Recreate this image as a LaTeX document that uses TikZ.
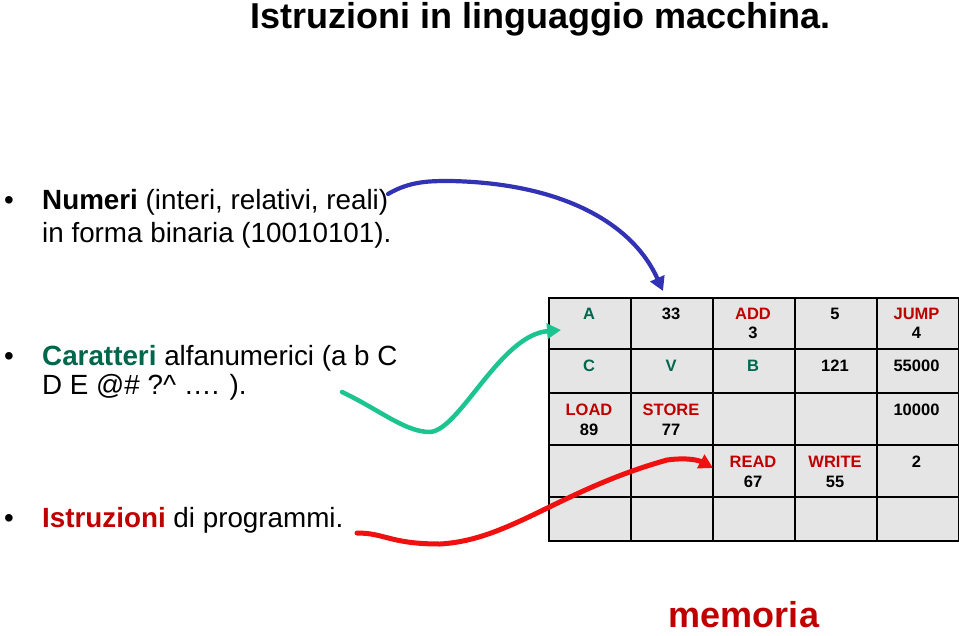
\documentclass[tikz,border=0pt]{standalone}
\usepackage{fontspec}
\setmainfont{Liberation Sans}
\usetikzlibrary{arrows.meta}
\definecolor{tgreen}{HTML}{00664C}
\definecolor{tred}{HTML}{C00000}
\definecolor{ablue}{HTML}{3232B4}
\definecolor{agreen}{HTML}{1CC490}
\definecolor{ared}{HTML}{F01010}
\definecolor{cellgray}{HTML}{E5E5E5}
\begin{document}
\begin{tikzpicture}[x=1pt,y=-1pt,
  cellbox/.style={draw=black, line width=1.5pt, fill=cellgray, inner sep=0pt, minimum width=82pt, anchor=north west},
  celltxt/.style={anchor=base, inner sep=0pt, font=\fontsize{16.5}{19}\selectfont\bfseries},
  body/.style={anchor=base west, inner sep=0pt, font=\fontsize{27.8}{33}\selectfont},
  bul/.style={anchor=base west, inner sep=0pt, font=\fontsize{27.8}{33}\selectfont},
  handarrow/.style={line width=4.2pt, line cap=round, line join=round, -{Triangle[length=14pt,width=15pt]}}
]
\useasboundingbox (0,0) rectangle (959,635);

% title
\node[anchor=base west, inner sep=0pt, font=\fontsize{36}{40}\selectfont\bfseries] (title) at (250,28) {Istruzioni in linguaggio macchina.};

% bullets and text
\node[bul] (b1) at (4,209) {•};
\node[body] (n1) at (42,209) {\textbf{Numeri} (interi, relativi, reali)};
\node[body] (n2) at (42,242) {in forma binaria (10010101).};
\node[bul] (b2) at (4,365) {•};
\node[body] (c1) at (42,365) {\textcolor{tgreen}{\textbf{Caratteri}} alfanumerici (a b C};
\node[body] (c2) at (42,394) {D E @\# ?\textasciicircum{} …. ).};
\node[bul] (b3) at (4,527) {•};
\node[body] (i1) at (42,527) {\textcolor{tred}{\textbf{Istruzioni}} di programmi.};

% memory grid
\foreach \r/\top/\h in {1/297/51, 2/348/44, 3/392/52, 4/444/52, 5/496/44}{
  \foreach \c/\l in {1/548, 2/630, 3/712, 4/794, 5/876}{
    \node[cellbox, minimum height=\h pt] (cell\r\c) at (\l,\top) {};
  }
}

% cell texts
\node[celltxt, text=tgreen] (tA) at (589,319) {A};
\node[celltxt] (t33) at (671,319) {33};
\node[celltxt, text=tred] (tADD) at (753,319) {ADD};
\node[celltxt] (t3) at (753,338.5) {3};
\node[celltxt] (t5) at (835,319) {5};
\node[celltxt, text=tred] (tJUMP) at (916.5,319) {JUMP};
\node[celltxt] (t4) at (916.5,338.5) {4};

\node[celltxt, text=tgreen] (tC) at (589,371) {C};
\node[celltxt, text=tgreen] (tV) at (671,371) {V};
\node[celltxt, text=tgreen] (tB) at (753,371) {B};
\node[celltxt] (t121) at (835,371) {121};
\node[celltxt] (t55000) at (916.5,371) {55000};

\node[celltxt, text=tred] (tLOAD) at (589,415) {LOAD};
\node[celltxt] (t89) at (589,435) {89};
\node[celltxt, text=tred] (tSTORE) at (671,415) {STORE};
\node[celltxt] (t77) at (671,435) {77};
\node[celltxt] (t10000) at (916.5,415) {10000};

\node[celltxt, text=tred] (tREAD) at (753,467) {READ};
\node[celltxt] (t67) at (753,487) {67};
\node[celltxt, text=tred] (tWRITE) at (835,467) {WRITE};
\node[celltxt] (t55) at (835,487) {55};
\node[celltxt] (t2) at (916.5,467) {2};

% memoria label
\node[anchor=base, inner sep=0pt, text=tred, font=\fontsize{36}{40}\selectfont\bfseries] (mem) at (744,627) {memoria};

% hand-drawn arrows
\coordinate (bs) at (388,194);
\coordinate (bm) at (450,181);
\coordinate (be) at (663,291);
\draw[handarrow, draw=ablue] (bs) .. controls (410,181) and (430,181) .. (bm)
   .. controls (560,183) and (632,222) .. (be);

\coordinate (gs) at (342,392);
\coordinate (gm) at (430,432);
\coordinate (ge) at (561,330);
\draw[handarrow, line width=4.5pt, draw=agreen] (gs) .. controls (380,410) and (405,432) .. (gm)
   .. controls (460,430) and (500,335) .. (ge);

\coordinate (rs) at (357,533);
\coordinate (rm) at (440,544);
\coordinate (rn) at (667,460);
\coordinate (re) at (713,468);
\draw[handarrow, line width=5pt, draw=ared] (rs) .. controls (385,533) and (390,544) .. (rm)
   .. controls (510,540) and (560,490) .. (rn)
   .. controls (690,457) and (700,461) .. (re);
\end{tikzpicture}
\end{document}
